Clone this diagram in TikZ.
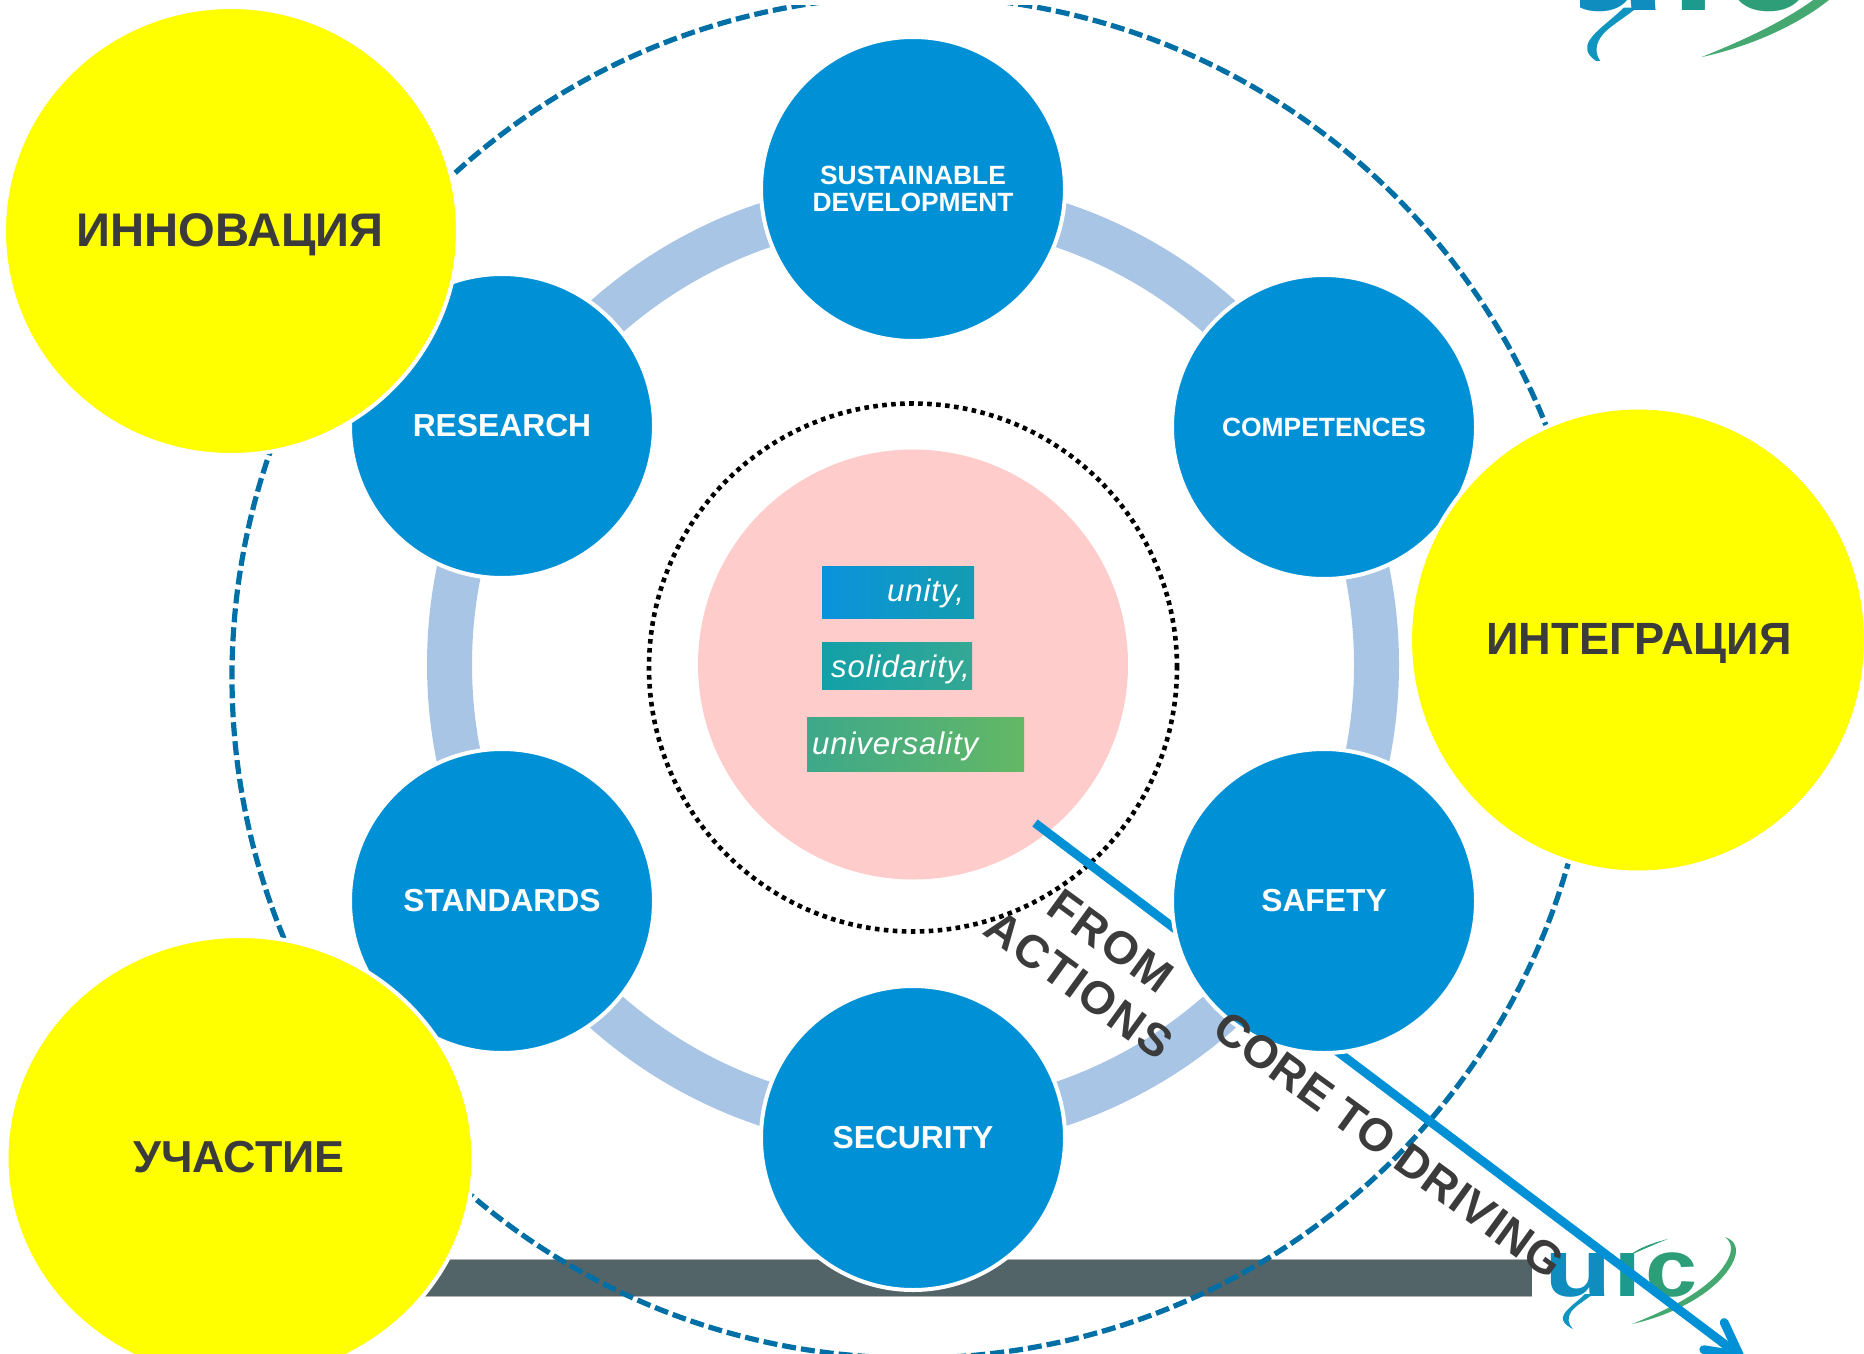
\documentclass[tikz,border=0pt]{standalone}
\usepackage{fontspec}
\setmainfont{Liberation Sans}
\newfontfamily\widebold[LetterSpace=4]{Liberation Sans Bold}
\newfontfamily\slightbold[LetterSpace=1]{Liberation Sans Bold}
\newfontfamily\wideitalic[LetterSpace=3]{Liberation Sans Italic}
\usetikzlibrary{arrows.meta,shapes.geometric}
\definecolor{discblue}{HTML}{0090D6}
\definecolor{ringblue}{HTML}{A9C5E6}
\definecolor{dashblue}{HTML}{006FA5}
\definecolor{pinkdisc}{HTML}{FFCCCC}
\definecolor{slate}{HTML}{536468}
\definecolor{darktext}{HTML}{3B3B3B}
\definecolor{sunyellow}{HTML}{FFFF00}
\definecolor{logou}{HTML}{0E8DBE}
\definecolor{logoi}{HTML}{1D9A8E}
\definecolor{logoc}{HTML}{2E9E78}
\definecolor{logoswoosh}{HTML}{45A870}
\definecolor{logotail}{HTML}{1094C0}
\definecolor{unityL}{HTML}{0A93DC}
\definecolor{unityR}{HTML}{149CB0}
\definecolor{solidL}{HTML}{12A0A8}
\definecolor{solidR}{HTML}{34A894}
\definecolor{univL}{HTML}{3DA88A}
\definecolor{univR}{HTML}{64B865}
\tikzset{
  x=0.5pt,y=-0.5pt,
  disc/.style={circle,outer sep=0pt,fill=discblue,draw=white,line width=2pt,minimum size=152pt,inner sep=0pt,text=white,font=\fontsize{15.9}{17}\selectfont\bfseries,align=center},
  smalldisc/.style={disc,font=\fontsize{13.2}{13.7}\selectfont\bfseries},
  sun/.style={ellipse,outer sep=0pt,fill=sunyellow,draw=white,line width=2pt,inner sep=0pt},
  suntext/.style={anchor=base,inner sep=0pt,text=darktext,font=\fontsize{23.6}{26}\selectfont\bfseries},
  valuebox/.style={rectangle,outer sep=0pt,inner ysep=0pt,minimum height=#1,text=white,text depth=0pt,font=\fontsize{15.6}{18}\wideitalic},
  slanted/.style={rotate=-36,text=darktext,align=center,inner sep=0pt},
  logoletter/.style={anchor=base,inner sep=0pt,transform shape,font=\fontsize{40.7}{42}\selectfont\bfseries},
}
\newcommand{\uiclogo}{%
  \fill[logotail] (-2,-2) .. controls (-12,8) and (-26,16) .. (-24,24) .. controls (-23,28) and (-18,31) .. (-14,33) .. controls (-19,28) and (-20,22) .. (-16,16) .. controls (-12,10) and (-4,6) .. (6,-2) -- cycle;
  \node[logoletter,xscale=1.36,text=logou] (u) at (-9,0) {u};
  \node[logoletter,xscale=1.25,text=logoi] (i) at (40.5,0) {ı};
  \node[logoletter,xscale=1.15,text=logoc] (c) at (85,0) {c};
  \fill[logoc] (81,-57) .. controls (65,-53) and (52,-48) .. (43,-41) .. controls (55,-46) and (68,-52) .. cycle;
  \fill[logoswoosh] (138,-59) .. controls (150,-55) and (152,-45) .. (145,-32) .. controls (130,-5) and (90,18) .. (45,28) .. controls (85,12) and (125,-8) .. (140,-35) .. controls (146,-45) and (145,-54) .. cycle;
}
\begin{document}
\begin{tikzpicture}
\useasboundingbox (0,0) rectangle (1864,1354);
\clip (0,0) rectangle (1864,1354);
% ring joining the discs
\node[circle,outer sep=0pt,draw=ringblue,line width=22.5pt,minimum size=463.5pt,inner sep=0pt] (ring) at (913,664.5) {};
% bar
\fill[slate] (300,1259) rectangle (1532,1296);
\draw[black!30,line width=0.5pt] (300,1259) -- (1532,1259) (300,1296) -- (1532,1296);
% dashed outer circle
\begin{scope}
\clip (0,6) rectangle (1864,1354);
\node[circle,outer sep=0pt,draw=dashblue,line width=2.6pt,dash pattern=on 7pt off 2.5pt,minimum size=681pt,inner sep=0pt] (outer) at (913,677) {};
\end{scope}
% centre
\node[circle,outer sep=0pt,fill=pinkdisc,minimum size=215pt,inner sep=0pt] (core) at (913,664.5) {};
\node[circle,outer sep=0pt,draw=black,line width=2.3pt,dash pattern=on 2.3pt off 2.2pt,minimum size=264pt,inner sep=0pt] (dots) at (913,667.5) {};
\node[valuebox=26pt,left color=unityL,right color=unityR,text height=9.9pt,text width=66pt,inner xsep=5pt,align=right] (unity) at (898,592) {unity,};
\node[valuebox=23.5pt,left color=solidL,right color=solidR,text height=11.9pt,text width=66pt,inner xsep=4.5pt,align=left] (solidarity) at (897,665.5) {solidarity,};
\node[valuebox=27pt,left color=univL,right color=univR,text height=10.4pt,text width=103.5pt,inner xsep=2.5pt,align=left] (universality) at (915.5,744) {universality};
% logos
\begin{scope}[shift={(1587,1296)},name prefix=b-]
\uiclogo
\end{scope}
\begin{scope}
\clip (1580,0) rectangle (1864,61);
\begin{scope}[shift={(1627,11)},scale=1.65,name prefix=t-]
\uiclogo
\end{scope}
\end{scope}
% arrow
\coordinate (arrowstart) at (1035,823);
\coordinate (arrowend) at (1743,1358);
\draw[discblue,line width=4.4pt,-{Straight Barb[length=16pt,width=17pt,round]}] (arrowstart) -- (arrowend);
% discs
\node[smalldisc] (sd) at (913,189) {SUSTAINABLE\\DEVELOPMENT};
\node[smalldisc] (comp) at (1324,427) {COMPETENCES};
\node[disc] (safety) at (1324,901) {SAFETY};
\node[disc] (security) at (913,1138) {SECURITY};
\node[disc] (standards) at (502,901) {STANDARDS};
\node[disc] (research) at (502,426) {RESEARCH};
% yellow circles
\node[sun,minimum width=227pt,minimum height=224pt] (innov) at (231,231) {};
\node[suntext] (innovt) at (230,246) {ИННОВАЦИЯ};
\node[sun,minimum width=228pt,minimum height=232.5pt] (integ) at (1638,640) {};
\node[suntext,font=\fontsize{22.6}{26}\selectfont\bfseries] (integt) at (1639,654) {ИНТЕГРАЦИЯ};
\node[sun,minimum width=233.5pt,minimum height=222pt] (partic) at (240,1158) {};
\node[suntext,font=\fontsize{22.4}{26}\selectfont\bfseries] (partict) at (239,1172) {УЧАСТИЕ};
% rotated text
\node[slanted,font=\fontsize{23}{27}\widebold] (from) at (1095,963) {FROM\\ACTIONS};
\node[slanted,font=\fontsize{23}{26}\slightbold] (core2) at (1389,1145) {CORE TO DRIVING};
\end{tikzpicture}
\end{document}
